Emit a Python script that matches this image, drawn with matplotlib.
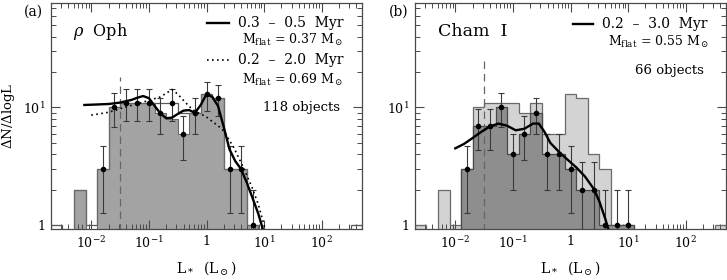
import numpy as np
import matplotlib
matplotlib.use("Agg")
from matplotlib import pyplot as plt
from matplotlib.ticker import FixedLocator, FixedFormatter, LogLocator, NullFormatter

plt.rcParams['font.family'] = ['DejaVu Serif']
plt.rcParams['mathtext.fontset'] = 'dejavuserif'

# 0.2 dex bins in log L, centres from -2.6 to 2.6
bin_centers = np.round(np.arange(-2.6, 2.61, 0.2), 1)
bin_width = 0.2

# rho Oph: outline histogram, filled histogram, counts with poisson errors
oph_outline = [1, 0, 2, 1, 3, 10, 11, 11, 11, 11, 11, 9, 9, 13, 12, 3, 3, 1, 0, 0, 0, 0, 0, 0, 0, 0, 1]
oph_fill    = [0, 0, 2, 0, 3, 10, 11, 11, 11, 9, 8, 6, 9, 13, 12, 3, 3, 1, 0, 0, 0, 0, 0, 0, 0, 0, 0]
oph_points  = [0, 0, 0, 0, 3, 10, 11, 11, 11, 9, 11, 6, 9, 13, 12, 3, 3, 1, 0, 0, 0, 0, 0, 0, 0, 0, 0]

# Cham I: full sample (light) and subsample (dark, with points)
cham_light  = [1, 0, 2, 1, 3, 10, 11, 11, 11, 9, 11, 6, 6, 13, 12, 4, 3, 1, 1, 0, 0, 0, 0, 0, 0, 0, 1]
cham_dark   = [0, 0, 0, 0, 3, 7, 7, 10, 4, 6, 9, 4, 4, 3, 2, 2, 1, 1, 1, 0, 0, 0, 0, 0, 0, 0, 0]

# model luminosity functions
oph_solid_logL = [-2.12, -1.9, -1.7, -1.5, -1.3, -1.2, -1.1, -1.0, -0.9, -0.8, -0.7, -0.6, -0.5, -0.4,
                  -0.3, -0.2, -0.1, 0.0, 0.1, 0.2, 0.3, 0.4, 0.5, 0.6, 0.7, 0.8, 0.9, 0.98]
oph_solid_val = [10.5, 10.6, 10.7, 11.0, 11.6, 12.1, 12.5, 12.0, 10.3, 8.9, 8.1, 8.2, 8.8, 9.4,
                 9.5, 9.0, 10.5, 13.0, 12.3, 10.3, 6.8, 4.4, 3.5, 3.0, 2.3, 1.7, 1.25, 0.92]
oph_dot_logL = [-2.0, -1.7, -1.4, -1.1, -0.8, -0.7, -0.6, -0.5, -0.4, -0.3, -0.2, -0.1, 0.0, 0.1,
                0.2, 0.3, 0.47, 0.64, 0.79, 0.9, 1.02]
oph_dot_val = [8.6, 9.1, 10.1, 11.1, 12.3, 13.2, 14.2, 13.0, 11.5, 10.2, 9.3, 8.8, 8.3, 7.6,
               7.0, 6.3, 4.6, 3.1, 2.1, 1.5, 0.92]
cham_logL = [-2.0, -1.85, -1.7, -1.55, -1.4, -1.25, -1.1, -0.95, -0.8, -0.65, -0.55, -0.45, -0.35,
             -0.2, -0.05, 0.1, 0.25, 0.4, 0.5, 0.6, 0.66]
cham_val = [4.5, 4.9, 5.5, 6.2, 6.9, 7.3, 7.0, 6.4, 6.6, 7.3, 7.3, 6.2, 5.0,
            4.2, 3.6, 3.1, 2.6, 2.05, 1.6, 1.15, 0.92]

lum_cut = 0.032
cut_top_a = 18
cut_top_b = 25

x_major = [1e-2, 1e-1, 1, 10, 100]
x_labels = [r'$10^{-2}$', r'$10^{-1}$', '1', r'$10^{1}$', r'$10^{2}$']
y_major = [1, 10]
y_labels = ['1', r'$10^{1}$']

edge_col = '#4a4a4a'
floor = 1e-3


def counts(v):
    v = np.asarray(v, dtype=float)
    return np.where(v > 0, v, floor)


def style_axis(ax):
    ax.set_xscale('log')
    ax.set_yscale('log')
    ax.set_xlim(0.002, 500)
    ax.set_ylim(0.925, 77)
    ax.xaxis.set_major_locator(FixedLocator(x_major))
    ax.xaxis.set_major_formatter(FixedFormatter(x_labels))
    ax.xaxis.set_minor_locator(LogLocator(base=10, subs=np.arange(2, 10), numticks=20))
    ax.xaxis.set_minor_formatter(NullFormatter())
    ax.yaxis.set_major_locator(FixedLocator(y_major))
    ax.yaxis.set_major_formatter(FixedFormatter(y_labels))
    ax.yaxis.set_minor_locator(LogLocator(base=10, subs=np.arange(2, 10), numticks=20))
    ax.yaxis.set_minor_formatter(NullFormatter())
    ax.tick_params(which='both', direction='in', top=True, right=True, color=edge_col, labelsize=9)
    ax.tick_params(which='major', length=6.5, width=0.8, pad=4)
    ax.tick_params(which='minor', length=3.5, width=0.7)
    for s in ax.spines.values():
        s.set_color(edge_col)
        s.set_linewidth(0.9)
    ax.set_xlabel(r'L$_*$  (L$_\odot$)', fontsize=10, labelpad=6)


def points(ax, vals):
    vals = np.asarray(vals, dtype=float)
    keep = vals > 0
    x = 10 ** bin_centers[keep]
    y = vals[keep]
    err = np.sqrt(y)
    lower = np.minimum(err, y - floor)
    ax.errorbar(x, y, yerr=[lower, err], fmt='o', color='black', ms=3,
                ecolor='#3a3a3a', elinewidth=0.8, capsize=2.5, capthick=0.8, zorder=6)


edges = 10 ** np.append(bin_centers - bin_width / 2, bin_centers[-1] + bin_width / 2)

fig = plt.figure(figsize=(7.27, 2.80), dpi=100)
ax_a = fig.add_axes([51 / 727, 50.7 / 280, 311 / 727, 226.3 / 280])
ax_b = fig.add_axes([415 / 727, 50.7 / 280, 311 / 727, 226.3 / 280])

# ---- panel (a) rho Oph
ax = ax_a
ax.stairs(counts(oph_fill), edges, baseline=floor, fill=True, color='#a3a3a3', lw=0, zorder=1)
ax.stairs(counts(oph_outline), edges, baseline=floor, fill=False, color='#5a5a5a', lw=0.9, zorder=2)
ax.stairs(counts(oph_fill), edges, baseline=floor, fill=False, color='#6a6a6a', lw=0.8, zorder=2)
ax.vlines(lum_cut, floor, cut_top_a, colors='#666666', linestyles=(0, (6, 4)), lw=0.9, zorder=3)
points(ax, oph_points)
ax.plot(10 ** np.array(oph_solid_logL), oph_solid_val, color='black', lw=1.7, zorder=7)
ax.plot(10 ** np.array(oph_dot_logL), oph_dot_val, color='black', lw=1.2, ls=(0, (1, 2)), zorder=7)
style_axis(ax)
ax.set_ylabel(r'$\Delta$N/$\Delta$logL', fontsize=9.5)
ax.yaxis.set_label_coords(-0.108, 0.5)

ax.plot([0.502, 0.572], [0.913, 0.913], transform=ax.transAxes, color='black', lw=1.7)
ax.text(0.94, 0.913, '0.3  –  0.5  Myr', transform=ax.transAxes, ha='right', va='center', fontsize=10)
ax.text(0.94, 0.835, r'M$_{\rm flat}$ = 0.37 M$_\odot$', transform=ax.transAxes, ha='right', va='center', fontsize=9)
ax.plot([0.502, 0.572], [0.748, 0.748], transform=ax.transAxes, color='black', lw=1.2, ls=(0, (1, 2)))
ax.text(0.94, 0.748, '0.2  –  2.0  Myr', transform=ax.transAxes, ha='right', va='center', fontsize=10)
ax.text(0.94, 0.66, r'M$_{\rm flat}$ = 0.69 M$_\odot$', transform=ax.transAxes, ha='right', va='center', fontsize=9)
ax.text(0.93, 0.539, '118 objects', transform=ax.transAxes, ha='right', va='center', fontsize=9.5)
ax.text(0.07, 0.872, r'$\rho$  Oph', transform=ax.transAxes, ha='left', va='center', fontsize=11.5)
ax.text(-0.058, 0.96, '(a)', transform=ax.transAxes, ha='center', va='center', fontsize=10)

# ---- panel (b) Cham I
ax = ax_b
ax.stairs(counts(cham_light), edges, baseline=floor, fill=True, color='#d3d3d3', lw=0, zorder=1)
ax.stairs(counts(cham_light), edges, baseline=floor, fill=False, color='#6a6a6a', lw=0.9, zorder=2)
ax.stairs(counts(cham_dark), edges, baseline=floor, fill=True, color='#8e8e8e', lw=0, zorder=2.5)
ax.stairs(counts(cham_dark), edges, baseline=floor, fill=False, color='#4a4a4a', lw=0.9, zorder=2.6)
ax.vlines(lum_cut, floor, cut_top_b, colors='#666666', linestyles=(0, (6, 4)), lw=0.9, zorder=3)
points(ax, cham_dark)
ax.plot(10 ** np.array(cham_logL), cham_val, color='black', lw=1.7, zorder=7)
style_axis(ax)

ax.plot([0.508, 0.572], [0.907, 0.907], transform=ax.transAxes, color='black', lw=1.7)
ax.text(0.94, 0.907, '0.2  –  3.0  Myr', transform=ax.transAxes, ha='right', va='center', fontsize=10)
ax.text(0.945, 0.83, r'M$_{\rm flat}$ = 0.55 M$_\odot$', transform=ax.transAxes, ha='right', va='center', fontsize=9)
ax.text(0.93, 0.70, '66 objects', transform=ax.transAxes, ha='right', va='center', fontsize=9.5)
ax.text(0.074, 0.872, 'Cham  I', transform=ax.transAxes, ha='left', va='center', fontsize=12.5)
ax.text(-0.051, 0.96, '(b)', transform=ax.transAxes, ha='center', va='center', fontsize=10)

fig.savefig('out.png', dpi=100)
